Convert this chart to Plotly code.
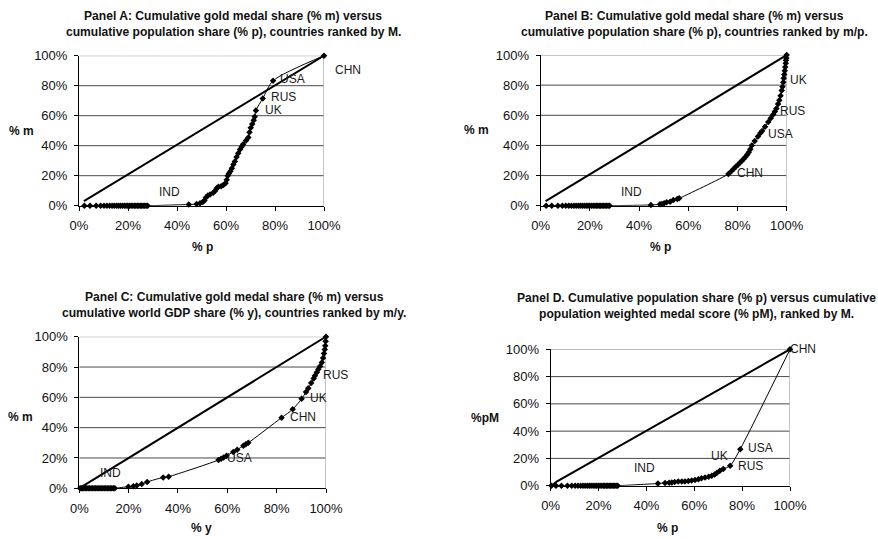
import plotly.graph_objects as go

# ---- data (cumulative shares, in %) ----
# countries with no gold medal, ranked first (population share)
zero_pop_x = [2.2, 4.5, 7.0, 8.8, 10.2, 11.4, 12.5, 13.5, 14.4, 15.3, 16.1, 16.9, 17.7,
              18.5, 19.2, 19.9, 20.6, 21.3, 22.0, 22.6, 23.2, 23.8, 24.4, 25.0, 25.6,
              26.2, 26.8, 27.4, 28.0]

# Panel A: %m vs %p, ranked by M
a_x = zero_pop_x + [44.8, 48.0, 49.4, 50.5, 51.2, 51.8, 52.6, 53.5, 54.8, 55.6, 56.2,
                    56.9, 58.0, 58.9, 59.8, 60.3, 60.7, 61.2, 61.8, 62.4, 63.0, 63.6,
                    64.3, 65.0, 65.7, 66.4, 67.0, 68.2, 69.1, 69.6, 70.1, 70.7, 71.3,
                    71.7, 72.2, 75.0, 79.2, 100.0]
a_y = [0.0] * len(zero_pop_x) + [0.8, 1.1, 1.6, 2.5, 3.5, 5.5, 6.8, 7.4, 8.6, 10.0, 11.6,
                                 12.7, 13.0, 13.8, 15.0, 17.3, 20.0, 21.5, 23.0, 25.0, 27.5,
                                 29.5, 32.5, 35.0, 37.5, 39.3, 41.0, 43.5, 45.5, 49.0, 52.0,
                                 54.5, 57.0, 59.3, 63.5, 71.5, 83.3, 100.0]

# Panel B: %m vs %p, ranked by m/p
b_x = zero_pop_x + [44.8, 48.5, 49.3, 50.2, 51.2, 52.6, 53.9, 55.5, 56.3, 76.3, 77.6,
                    78.5, 79.3, 80.2, 81.0, 81.8, 82.5, 83.3, 84.0, 84.6, 85.2, 85.8,
                    87.0, 88.3, 89.3, 90.0, 91.2, 92.5, 93.5, 94.5, 95.2, 95.8, 96.5,
                    97.0, 97.5, 98.0, 98.3, 98.6, 98.8, 99.0, 99.2, 99.4, 99.6, 99.7,
                    99.85, 100.0]
b_y = [0.0] * len(zero_pop_x) + [0.5, 0.9, 1.2, 1.6, 2.3, 2.7, 3.8, 4.4, 4.9, 21.0, 23.0,
                                 24.5, 25.8, 27.2, 28.5, 29.8, 31.0, 32.5, 34.0, 35.5, 37.5,
                                 40.0, 43.0, 46.0, 48.3, 49.5, 52.4, 55.5, 58.0, 60.5, 62.5,
                                 64.5, 67.5, 70.0, 73.0, 76.5, 79.0, 82.0, 84.5, 87.0, 89.5,
                                 92.0, 94.5, 96.5, 98.0, 100.0]

# Panel C: %m vs %y (world GDP share), ranked by m/y
zero_gdp_x = [0.3, 0.8, 1.3, 1.8, 2.4, 3.0, 3.6, 4.2, 4.8, 5.4, 6.0, 6.6, 7.2, 7.8, 8.4,
              9.0, 9.6, 10.2, 10.8, 11.4, 12.0, 12.6, 13.2, 13.8, 14.4]
c_x = zero_gdp_x + [19.9, 21.9, 23.3, 25.3, 27.5, 34.0, 36.2, 56.4, 57.5, 58.5, 59.7,
                    62.4, 64.0, 66.5, 67.5, 68.5, 82.0, 86.5, 90.1, 91.9, 92.8, 94.0,
                    95.0, 95.5, 96.3, 96.9, 97.6, 98.3, 98.8, 99.2, 99.5, 99.7, 99.85,
                    100.0]
c_y = [0.0] * len(zero_gdp_x) + [1.1, 1.4, 1.8, 2.8, 4.2, 7.2, 7.7, 18.6, 19.5, 20.3, 21.5,
                                 24.0, 25.5, 28.0, 29.0, 30.0, 46.6, 52.1, 59.0, 63.5, 66.0,
                                 69.5, 72.5, 74.3, 76.5, 78.5, 80.5, 83.0, 86.0, 89.0, 91.5,
                                 94.0, 97.0, 100.0]

# Panel D: %pM vs %p, ranked by M
d_x = [0.3] + zero_pop_x + [44.8, 47.8, 49.5, 50.6, 51.8, 53.3, 54.8, 56.1, 57.5, 58.9,
                            60.3, 61.7, 63.0, 64.5, 66.0, 67.3, 68.5, 69.4, 70.7, 72.1,
                            75.0, 79.2, 100.0]
d_y = [0.0] * (len(zero_pop_x) + 1) + [1.6, 2.0, 2.2, 2.4, 2.7, 3.0, 3.0, 3.1, 3.4, 3.8,
                                       4.2, 4.8, 5.4, 6.0, 6.6, 7.3, 8.2, 9.3, 11.0, 12.3,
                                       14.6, 26.8, 100.0]

# equality lines
diag_ab = [2.0, 100.0]
diag_ab_y = [3.0, 100.0]
diag_c = [0.0, 100.0]
diag_d = [0.3, 2.5, 100.0]
diag_d_y = [0.0, 3.0, 100.0]

# country labels: (text, x, y) in data units (may sit outside the 0-100 range)
labels_a = [("CHN", 109.8, 90.5), ("USA", 87.3, 84.3), ("RUS", 83.3, 72.3),
            ("UK", 79.2, 64.0), ("IND", 37.1, 9.3)]
labels_b = [("UK", 104.7, 83.3), ("RUS", 102.4, 62.9), ("USA", 97.6, 47.5),
            ("CHN", 85.0, 21.7), ("IND", 37.0, 9.3)]
labels_c = [("RUS", 104.0, 75.0), ("UK", 96.9, 59.4), ("CHN", 90.8, 47.3),
            ("USA", 65.1, 19.8), ("IND", 12.5, 10.1)]
labels_d = [("CHN", 105.6, 100.3), ("USA", 87.5, 27.5), ("RUS", 83.3, 14.8),
            ("UK", 70.5, 21.6), ("IND", 39.4, 12.8)]

tick_vals = [0, 20, 40, 60, 80, 100]
tick_text = [f"{v}%" for v in tick_vals]

W, H = 878, 539
FONT = "Liberation Sans, Arial, sans-serif"

# panel geometry in pixels: (left, right, top, bottom)
panels = [
    dict(box=(79, 324, 55.7, 205.7), x=a_x, y=a_y, dx=diag_ab, dy=diag_ab_y, labels=labels_a,
         title=("Panel A: Cumulative gold medal share (% m) versus",
                "cumulative population share (% p), countries ranked by M."),
         tpos=(233, 16, 32.3), ytitle=("% m", 21, 131), xtitle=("% p", 202, 247)),
    dict(box=(540.7, 786.7, 55, 205.7), x=b_x, y=b_y, dx=diag_ab, dy=diag_ab_y, labels=labels_b,
         title=("Panel B: Cumulative gold medal share (% m) versus",
                "cumulative population share (% p), countries ranked by m/p."),
         tpos=(694, 16, 32.3), ytitle=("% m", 477, 130), xtitle=("% p", 660, 247)),
    dict(box=(79.3, 326, 336.7, 488.3), x=c_x, y=c_y, dx=diag_c, dy=diag_c, labels=labels_c,
         title=("Panel C: Cumulative gold medal share (% m) versus",
                "cumulative world GDP share (% y), countries ranked by m/y."),
         tpos=(234.5, 296.7, 313.3), ytitle=("% m", 20, 416.7), xtitle=("% y", 201.7, 528.3)),
    dict(box=(550.7, 790, 349.3, 485.7), x=d_x, y=d_y, dx=diag_d, dy=diag_d_y, labels=labels_d,
         title=("Panel D. Cumulative population share (% p) versus cumulative",
                "population weighted medal score (% pM), ranked by M."),
         tpos=(696.5, 298.3, 314), ytitle=("%pM", 485, 418.3), xtitle=("% p", 667.3, 528.3)),
]

fig = go.Figure()
annotations = []
shapes = []

for i, p in enumerate(panels, start=1):
    sfx = "" if i == 1 else str(i)
    xref, yref = "x" + sfx, "y" + sfx
    left, right, top, bottom = p["box"]

    fig.add_trace(go.Scatter(x=p["dx"], y=p["dy"], mode="lines", xaxis=xref, yaxis=yref,
                             line=dict(color="black", width=2), cliponaxis=False,
                             hoverinfo="skip", showlegend=False))
    fig.add_trace(go.Scatter(x=p["x"], y=p["y"], mode="lines+markers", xaxis=xref, yaxis=yref,
                             line=dict(color="black", width=1, shape="spline", smoothing=0.7),
                             marker=dict(symbol="diamond", size=5, color="black"),
                             cliponaxis=False, showlegend=False))

    ax = dict(range=[0, 100], tickmode="array", tickvals=tick_vals, ticktext=tick_text,
              showgrid=False, zeroline=False, showline=True, linecolor="black", linewidth=1,
              ticks="outside", ticklen=4, tickcolor="black", tickwidth=1, automargin=False,
              tickfont=dict(family=FONT, size=13, color="#111"), fixedrange=True)
    fig.update_layout(**{
        "xaxis" + sfx: dict(ax, domain=[left / W, right / W], anchor=yref,
                            ticklabelstandoff=4),
        "yaxis" + sfx: dict(ax, domain=[1 - bottom / H, 1 - top / H], anchor=xref,
                            ticklabelstandoff=4),
    })

    # gridlines and light plot-area border
    for g in [20, 40, 60, 80]:
        shapes.append(dict(type="line", xref=xref, yref=yref, x0=0, x1=100, y0=g, y1=g,
                           line=dict(color="#4a4a4a", width=1), layer="below"))
    shapes.append(dict(type="line", xref=xref, yref=yref, x0=0, x1=100, y0=100, y1=100,
                       line=dict(color="#8c8c8c", width=1), layer="below"))
    shapes.append(dict(type="line", xref=xref, yref=yref, x0=100, x1=100, y0=0, y1=100,
                       line=dict(color="#b0b0b0", width=1.5), layer="below"))

    # country labels, placed in paper units so that those beyond 100% stay visible
    for text, lx, ly in p["labels"]:
        px = left + lx / 100 * (right - left)
        py = bottom - ly / 100 * (bottom - top)
        annotations.append(dict(text=text, x=px / W, y=1 - py / H, xref="paper", yref="paper",
                                showarrow=False, xanchor="center", yanchor="middle",
                                font=dict(family=FONT, size=12, color="#1a1a1a")))

    cx, y1, y2 = p["tpos"]
    for line_text, ty in zip(p["title"], (y1, y2)):
        annotations.append(dict(text="<b>" + line_text + "</b>", x=cx / W, y=1 - ty / H,
                                xref="paper", yref="paper", showarrow=False,
                                xanchor="center", yanchor="middle",
                                font=dict(family=FONT, size=12.1, color="#111")))
    for t, tx, ty in (p["ytitle"], p["xtitle"]):
        annotations.append(dict(text="<b>" + t + "</b>", x=tx / W, y=1 - ty / H,
                                xref="paper", yref="paper", showarrow=False,
                                xanchor="center", yanchor="middle",
                                font=dict(family=FONT, size=12, color="#111")))

fig.update_layout(width=W, height=H, margin=dict(l=0, r=0, t=0, b=0, autoexpand=False),
                  paper_bgcolor="white", plot_bgcolor="white",
                  annotations=annotations, shapes=shapes, showlegend=False)

fig.write_html("out.html", config={"displayModeBar": False})
